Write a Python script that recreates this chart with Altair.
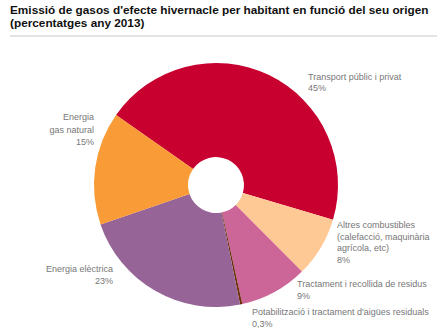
import math
import altair as alt
import pandas as pd

# ---- data ----
categories = [
    "Transport públic i privat",
    "Altres combustibles\n(calefacció, maquinària\nagrícola, etc)",
    "Tractament i recollida de residus",
    "Potabilització i tractament d'aigües residuals",
    "Energia elèctrica",
    "Energia\ngas natural",
]
values = [45, 8, 9, 0.3, 23, 15]
colors = ["#c8002f", "#fec995", "#cc6698", "#6b2e0b", "#966496", "#f99c37"]

title_lines = [
    "Emissió de gasos d'efecte hivernacle per habitant en funció del seu origen",
    "(percentatges any 2013)",
]

# ---- layout (page pixels) ----
TOP = 38
CX, CY = 216, 185
R_OUT, R_IN = 122, 28
START = math.radians(-55)
label_x = [308, 337, 297, 252, 113, 94]
label_y = [79.5, 228, 287, 315, 272, 120]
label_align = ["left", "left", "left", "left", "right", "right"]
label_lh = [11.7, 11.7, 11.7, 11.7, 11.7, 12.5]


def fmt(v):
    s = f"{v:g}".replace(".", ",")
    return s + "%"


df = pd.DataFrame({
    "cat": categories,
    "value": values,
    "ord": list(range(len(values))),
})

arcs = alt.Chart(df).mark_arc(
    outerRadius=R_OUT, innerRadius=R_IN, stroke=None
).encode(
    theta=alt.Theta("value:Q", stack=True,
                    scale=alt.Scale(range=[START, START + 2 * math.pi])),
    order=alt.Order("ord:Q"),
    color=alt.Color("cat:N", scale=alt.Scale(domain=categories, range=colors),
                    legend=None),
    x=alt.value(CX),
    y=alt.value(CY - TOP),
)

layers = [arcs]
for i, (c, v) in enumerate(zip(categories, values)):
    lab = pd.DataFrame({"t": [c + "\n" + fmt(v)]})
    layers.append(
        alt.Chart(lab).mark_text(
            align=label_align[i], baseline="alphabetic", lineBreak="\n",
            lineHeight=label_lh[i], font="Liberation Sans", fontSize=9,
            color="#777777",
        ).encode(
            text="t:N",
            x=alt.value(label_x[i]),
            y=alt.value(label_y[i] - TOP),
        )
    )

rule = alt.Chart(pd.DataFrame({"a": [0]})).mark_rule(
    color="#c8c8c8", strokeWidth=1
).encode(
    x=alt.value(10), x2=alt.value(437), y=alt.value(36 - TOP)
)
layers.append(rule)

chart = alt.layer(*layers).properties(
    width=444,
    height=335 - TOP,
    padding={"left": 0, "top": TOP, "right": 0, "bottom": 0},
    autosize=alt.AutoSizeParams(type="none"),
    title=alt.TitleParams(
        text=title_lines, anchor="start", frame="group", dx=10,
        font="Liberation Sans", fontSize=11.8, fontWeight="bold",
        color="#111111", lineHeight=12.5, offset=6,
    ),
).configure_view(stroke=None)

chart.save("out.html", embed_options={"renderer": "svg", "actions": False})
